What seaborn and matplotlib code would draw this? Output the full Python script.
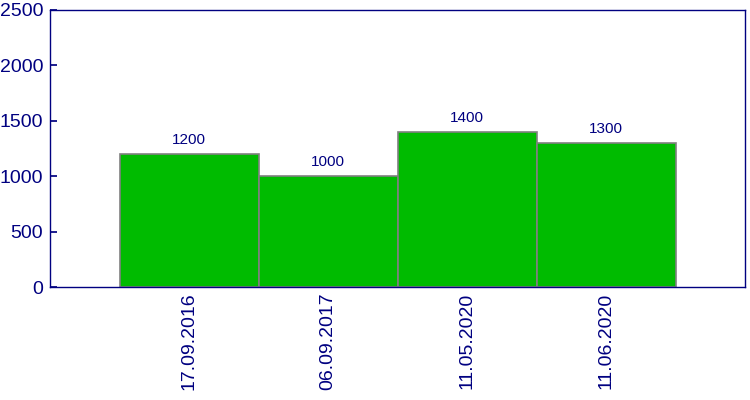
import matplotlib
matplotlib.use("Agg")
import matplotlib.pyplot as plt
import seaborn as sns
import pandas as pd

dates = ["17.09.2016", "06.09.2017", "11.05.2020", "11.06.2020"]
values = [1200, 1000, 1400, 1300]
yticks = [0, 500, 1000, 1500, 2000, 2500]

sns.set_theme(style="white")
plt.rcParams['font.family'] = ['Liberation Sans', 'DejaVu Sans']

navy = "#000080"
df = pd.DataFrame({"date": dates, "value": values})

fig = plt.figure(figsize=(7.5, 4), dpi=100)
ax = fig.add_axes([50/750, 113/400, 695/750, 277/400])
sns.barplot(data=df, x="date", y="value", ax=ax, color="#00BB00", saturation=1,
            width=1.0, edgecolor="#808080", linewidth=1.2)
ax.set_xlim(-1, 4)
ax.set_ylim(0, 2500)
ax.set_yticks(yticks)
ax.set_xlabel("")
ax.set_ylabel("")
for s in ax.spines.values():
    s.set_color(navy)
    s.set_linewidth(1)
ax.tick_params(axis="y", direction="in", length=5, color=navy, labelcolor=navy,
               labelsize=14, left=True, pad=5)
ax.tick_params(axis="x", length=0, labelcolor=navy, labelsize=14, rotation=90, pad=4)
for c in ax.containers:
    ax.bar_label(c, labels=[str(v) for v in values], padding=5, color=navy, fontsize=11)
fig.savefig("out.png", dpi=100)
